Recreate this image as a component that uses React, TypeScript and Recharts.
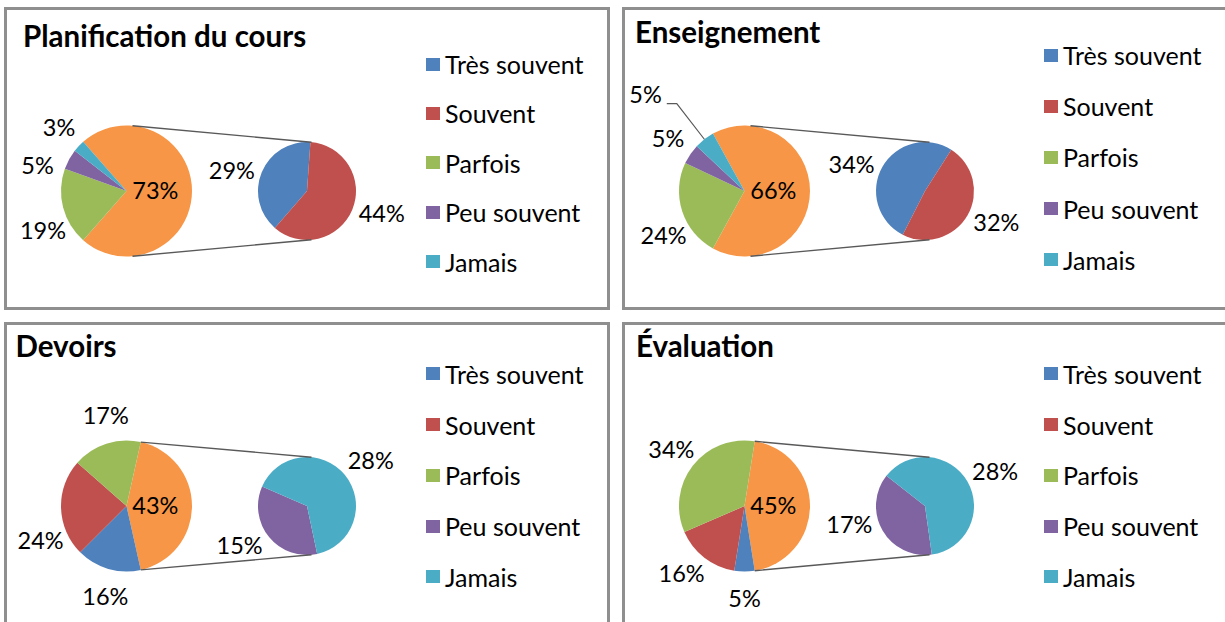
import React from "react";
import { PieChart, Pie, Cell, Legend } from "recharts";

// legend categories and their Excel colours
const categories = ["Très souvent", "Souvent", "Parfois", "Peu souvent", "Jamais"];
const colors = ["#4F81BD", "#C0504D", "#9BBB59", "#8064A2", "#4BACC6"];
const otherColor = "#F79646";

const titles = ["Planification du cours", "Enseignement", "Devoirs", "Évaluation"];

// % per category, same order as categories
const planification = [29, 44, 19, 5, 3];
const enseignement = [34, 32, 24, 5, 5];
const devoirs = [16, 24, 17, 15, 28];
const evaluation = [5, 16, 34, 17, 28];

// categories pulled out into the second pie
const secondPlanification = [0, 1];
const secondEnseignement = [0, 1];
const secondDevoirs = [3, 4];
const secondEvaluation = [3, 4];

const W = 606;
const H = 303;
const MAIN_CX = 122.5;
const SEC_CX = 303;
const CY = 184;
const MAIN_R = 65.5;
const SEC_R = 49;
const RADIAN = Math.PI / 180;
const FONT = "Lato, 'Open Sans', sans-serif";
const LABEL_SIZE = 23.5;
const LEGEND_SIZE = 25;
const TITLE_SIZE = 29.5;
const LINE = "#595959";

// layout per panel; the nudges turn a label round its pie (degrees) the way Excel placed it
const panels = [
  {
    title: titles[0], values: planification, second: secondPlanification,
    left: 4, top: 7, titleX: 19, titleY: 40, legendY: 57, legendGap: 49.4,
    secondStart: 229, leader: -1,
    mainNudge: { 2: 11, 3: 13 } as Record<number, number>,
    secondNudge: { 0: 7, 1: 6 } as Record<number, number>,
  },
  {
    title: titles[1], values: enseignement, second: secondEnseignement,
    left: 622, top: 7, titleX: 13, titleY: 36, legendY: 48, legendGap: 51.2,
    secondStart: 243, leader: 4,
    mainNudge: { 2: 11 } as Record<number, number>,
    secondNudge: { 0: 10, 1: 6 } as Record<number, number>,
  },
  {
    title: titles[2], values: devoirs, second: secondDevoirs,
    left: 4, top: 322, titleX: 11.5, titleY: 35.5, legendY: 51.7, legendGap: 50.8,
    secondStart: 282, leader: -1,
    mainNudge: { 0: 3, 1: 20, 2: -5 } as Record<number, number>,
    secondNudge: { 3: -9, 4: -4 } as Record<number, number>,
  },
  {
    title: titles[3], values: evaluation, second: secondEvaluation,
    left: 622, top: 322, titleX: 14, titleY: 35.5, legendY: 51.7, legendGap: 50.8,
    secondStart: 278, leader: -1,
    mainNudge: { 1: -5 } as Record<number, number>,
    secondNudge: { 3: -16, 4: -4 } as Record<number, number>,
  },
];

type Slice = { name: string; value: number; cat: number };

function buildMain(values: number[], second: number[]): Slice[] {
  const other = second.reduce((s, i) => s + values[i], 0);
  const rest = categories
    .map((name, i) => ({ name, value: values[i], cat: i }))
    .filter((d) => !second.includes(d.cat));
  return [{ name: "Autre", value: other, cat: -1 }, ...rest];
}

function buildSecond(values: number[], second: number[]): Slice[] {
  return second.map((i) => ({ name: categories[i], value: values[i], cat: i }));
}

const polar = (x0: number, y0: number, r: number, deg: number) => [
  x0 + r * Math.cos(deg * RADIAN),
  y0 - r * Math.sin(deg * RADIAN),
];

// keep the outside labels of the main pie from sitting on each other:
// walk from the top of the "other" slice round the left side and push a
// label further round while its box hits the one before it
function labelAngles(main: Slice[], start: number, total: number, leader: number, nudge: Record<number, number>) {
  const mids: Record<number, number> = {};
  let acc = start;
  main.forEach((d) => {
    const span = (d.value / total) * 360;
    mids[d.cat] = acc - span / 2 + (nudge[d.cat] ?? 0);
    acc -= span;
  });
  const R = MAIN_R + 27;
  const placed: { x: number; y: number; w: number }[] = [];
  const out: Record<number, number> = {};
  main
    .slice(1)
    .reverse()
    .forEach((d) => {
      if (d.cat === leader) return;
      let a = mids[d.cat];
      while (a < 360 + mids[d.cat]) {
        const [x, y] = polar(MAIN_CX, CY, R, a);
        const w = String(d.value).length * 12 + 20;
        const hit = placed.some((b) => Math.abs(b.x - x) < (b.w + w) / 2 && Math.abs(b.y - y) < 30);
        if (!hit) {
          placed.push({ x, y, w });
          break;
        }
        a += 1;
      }
      out[d.cat] = a;
    });
  return out;
}

function PctText({ x, y, value, anchor = "middle" }: any) {
  return (
    <text
      x={x}
      y={y + LABEL_SIZE * 0.36}
      textAnchor={anchor}
      fontFamily={FONT}
      fontSize={LABEL_SIZE}
      fill="#000"
    >
      {value}%
    </text>
  );
}

function mainLabel(leader: number, angles: Record<number, number>) {
  return (props: any) => {
    const { cx, cy, midAngle, outerRadius, percent, value, payload } = props;
    if (payload.cat === -1) {
      // "other" slice: label inside + the two connector lines to the second pie
      const phi = Math.acos((MAIN_R - SEC_R) / (SEC_CX - MAIN_CX)) / RADIAN;
      const a = Math.min(percent * 180, phi);
      const [x1, y1] = polar(cx, cy, outerRadius, midAngle + a);
      const [x2, y2] = polar(cx, cy, outerRadius, midAngle - a);
      const [x3, y3] = polar(SEC_CX, cy, SEC_R, phi);
      const [x4, y4] = polar(SEC_CX, cy, SEC_R, -phi);
      const [tx, ty] = polar(cx, cy, outerRadius * 0.44, midAngle);
      return (
        <g>
          <line x1={x1} y1={y1} x2={x3} y2={y3} stroke={LINE} strokeWidth={1.4} />
          <line x1={x2} y1={y2} x2={x4} y2={y4} stroke={LINE} strokeWidth={1.4} />
          <PctText x={tx} y={ty} value={value} />
        </g>
      );
    }
    if (payload.cat === leader) {
      const [ex, ey] = polar(cx, cy, outerRadius, midAngle);
      const [bx, by] = polar(cx, cy, outerRadius + 45, midAngle);
      return (
        <g>
          <polyline points={`${ex},${ey} ${bx},${by} ${bx - 10},${by}`} fill="none" stroke={LINE} strokeWidth={1.2} />
          <text x={bx - 15} y={by - 1} textAnchor="end" fontFamily={FONT} fontSize={LABEL_SIZE} fill="#000">
            {value}%
          </text>
        </g>
      );
    }
    const ang = angles[payload.cat] ?? midAngle;
    const [x, y] = polar(cx, cy, outerRadius + 27, ang);
    return <PctText x={x} y={y} value={value} />;
  };
}

function secondLabel(nudge: Record<number, number>) {
  return (props: any) => {
    const { cx, cy, midAngle, outerRadius, value, payload } = props;
    const [x, y] = polar(cx, cy, outerRadius + 29, midAngle + (nudge[payload.cat] ?? 0));
    return <PctText x={x} y={y} value={value} />;
  };
}

function Panel({ p }: any) {
  const main = buildMain(p.values, p.second);
  const sec = buildSecond(p.values, p.second);
  const total = p.values.reduce((s: number, v: number) => s + v, 0);
  const mainStart = (main[0].value / total) * 180;
  const angles = labelAngles(main, mainStart, total, p.leader, p.mainNudge);

  return (
    <div style={{ position: "absolute", left: p.left, top: p.top, width: W, height: H }}>
      <PieChart width={W} height={H} margin={{ top: 0, right: 0, bottom: 0, left: 0 }}>
        <Pie
          data={main}
          dataKey="value"
          cx={MAIN_CX}
          cy={CY}
          outerRadius={MAIN_R}
          startAngle={mainStart}
          endAngle={mainStart - 360}
          stroke="none"
          labelLine={false}
          label={mainLabel(p.leader, angles)}
          isAnimationActive={false}
        >
          {main.map((d) => (
            <Cell key={d.name} fill={d.cat === -1 ? otherColor : colors[d.cat]} />
          ))}
        </Pie>
        <Pie
          data={sec}
          dataKey="value"
          cx={SEC_CX}
          cy={CY}
          outerRadius={SEC_R}
          startAngle={p.secondStart}
          endAngle={p.secondStart - 360}
          stroke="none"
          labelLine={false}
          label={secondLabel(p.secondNudge)}
          isAnimationActive={false}
        >
          {sec.map((d) => (
            <Cell key={d.name} fill={colors[d.cat]} />
          ))}
        </Pie>
        <Legend
          layout="vertical"
          align="right"
          verticalAlign="top"
          wrapperStyle={{ left: 422, top: 0, width: 184, height: H }}
          content={() => (
            <div style={{ position: "relative", fontFamily: FONT }}>
              {categories.map((c, i) => (
                <div
                  key={c}
                  style={{
                    position: "absolute",
                    left: 0,
                    top: p.legendY + i * p.legendGap - 13,
                    height: 26,
                    display: "flex",
                    alignItems: "center",
                    whiteSpace: "nowrap",
                  }}
                >
                  <span style={{ display: "inline-block", width: 14, height: 13, background: colors[i], marginRight: 5 }} />
                  <span style={{ fontSize: LEGEND_SIZE, lineHeight: "26px", color: "#000" }}>{c}</span>
                </div>
              ))}
            </div>
          )}
        />
      </PieChart>
      <div
        style={{
          position: "absolute",
          left: p.titleX,
          top: p.titleY - TITLE_SIZE * 0.887,
          fontFamily: FONT,
          fontWeight: 700,
          fontSize: TITLE_SIZE,
          lineHeight: `${TITLE_SIZE}px`,
          whiteSpace: "nowrap",
          color: "#000",
        }}
      >
        {p.title}
      </div>
      <div
        style={{
          position: "absolute",
          left: 0,
          top: 0,
          width: W,
          height: H,
          boxSizing: "border-box",
          border: "3px solid #8f8f8f",
          pointerEvents: "none",
        }}
      />
    </div>
  );
}

export default function App() {
  return (
    <div
      style={{
        position: "absolute",
        left: 0,
        top: 0,
        width: 1225,
        height: 622,
        overflow: "hidden",
        background: "#fff",
      }}
    >
      {panels.map((p) => (
        <Panel key={p.title} p={p} />
      ))}
    </div>
  );
}
